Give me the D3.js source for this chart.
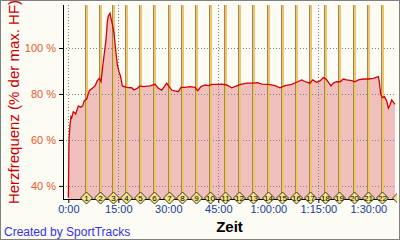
<!DOCTYPE html>
<html lang="de">
<head>
  <meta charset="UTF-8">
  <title>Herzfrequenz</title>
  <style>
    body { margin: 0; background: #fcfbf4; }
    svg { display: block; font-family: "Liberation Sans", Arial, sans-serif; }
  </style>
</head>
<body>
<svg id="chart" width="400" height="240"></svg>

<script src="https://d3js.org/d3.v7.min.js"></script>
<script>
  // time in minutes and heart rate in % of max HR
  const minutes = [0, 0.1, 0.2, 0.5, 0.8, 1.0, 1.5, 2.2, 3.0, 3.7, 4.3, 4.8, 5.5, 6.3, 7.2, 8.0, 8.7, 9.3, 9.8,
    10.3, 10.8, 11.3, 11.7, 12.0, 12.5, 12.8, 13.2, 13.7, 14.2, 14.7, 15.2, 15.7, 16.2, 17.5, 19.0, 19.7,
    20.7, 21.5, 22.5, 24.5, 26.0, 27.0, 28.0, 28.8, 29.5, 30.0, 31.0, 32.0, 33.0, 33.8, 35.0, 36.5, 38.0,
    38.8, 39.8, 41.0, 42.0, 43.2, 44.5, 46.0, 47.5, 49.0, 50.5, 52.0, 53.5, 55.5, 56.8, 58.0, 60.0, 62.0,
    63.5, 65.0, 67.0, 68.5, 70.0, 71.5, 72.5, 73.3, 74.5, 75.5, 76.5, 77.3, 78.0, 78.8, 79.5, 80.5, 81.5,
    82.5, 83.5, 85.0, 86.0, 87.0, 88.5, 90.0, 91.5, 93.0, 93.3, 93.7, 94.2, 94.8, 95.5, 96.0, 96.5, 97.0,
    97.5, 98.0];
  const heartRate = [35, 46.2, 60, 66.5, 70.1, 69.6, 72.3, 71.3, 74.8, 74.2, 74.8, 77.1, 77.8, 81.4, 82.5, 83.5, 85.8, 86.8, 85.3,
    91.9, 97.7, 103.5, 111.4, 113.9, 115.1, 112.9, 110.4, 106.4, 99.1, 92.6, 89.7, 87.5, 83.5, 82.9, 82.7, 81.7,
    82.5, 83.5, 83.2, 83.5, 84.2, 82.5, 81.7, 83.2, 84.7, 83.6, 81.7, 81.3, 81.0, 82.9, 82.9, 83.2, 82.9,
    81.4, 83.2, 83.9, 83.6, 84.2, 84.2, 84.3, 83.9, 82.7, 83.5, 84.3, 84.7, 84.7, 84.9, 84.3, 84.2, 83.6,
    82.7, 83.6, 84.2, 85.1, 86.1, 85.1, 84.7, 86.1, 85.1, 85.7, 87.1, 86.5, 85.1, 83.5, 84.7, 85.3, 85.3,
    86.5, 86.1, 85.8, 85.3, 86.1, 86.5, 86.5, 86.8, 87.5, 85.3, 79.9, 78.4, 78.8, 77.0, 73.8, 75.2, 77.4,
    76.4, 75.5];

  // lap ends (minutes); the last one sits on the right edge and is cut off, so it has no number
  const lapEnds = [5.2, 9.4, 13.3, 17.4, 21.6, 25.7, 30.2, 34.2, 38.3, 42.5, 47.0, 51.3, 55.5, 59.8,
    64.2, 68.4, 72.6, 76.9, 81.2, 85.6, 89.8, 94.1, 99.0];
  const lapLabels = ['1', '2', '3', '4', '5', '6', '7', '8', '9', '10', '11', '12', '13', '14',
    '15', '16', '17', '18', '19', '20', '21', '22', ''];

  const xTicks = [0, 15, 30, 45, 60, 75, 90];
  const xTickLabels = ['0:00', '15:00', '30:00', '45:00', '1:00:00', '1:15:00', '1:30:00'];
  const yTicks = [40, 60, 80, 100];
  const yTickLabels = ['40 %', '60 %', '80 %', '100 %'];

  const plotLeft = 63, plotRight = 396, plotTop = 5, plotBottom = 199;

  const svg = d3.select('#chart');

  const x = d3.scaleLinear().domain([-1.6, 98.3]).range([plotLeft, plotRight]);
  const y = d3.scaleLinear().domain([34.3, 118.7]).range([plotBottom, plotTop]);

  svg.append('rect').attr('width', 400).attr('height', 240).attr('fill', '#fcfbf4');

  svg.append('clipPath').attr('id', 'clip')
    .append('rect').attr('x', 0).attr('y', 0).attr('width', 397).attr('height', 240);

  const data = minutes.map((m, i) => ({ m: m, v: heartRate[i] }));

  // area
  svg.append('path')
    .datum(data)
    .attr('fill', '#f0c0bf')
    .attr('d', d3.area().x(d => x(d.m)).y0(plotBottom).y1(d => y(d.v)));

  // grid
  const grid = svg.append('g').attr('stroke', '#808080').attr('stroke-dasharray', '1,2');
  grid.selectAll('.gy').data(yTicks).enter().append('line')
    .attr('x1', plotLeft).attr('x2', plotRight)
    .attr('y1', d => Math.round(y(d)) + 0.5).attr('y2', d => Math.round(y(d)) + 0.5);
  grid.selectAll('.gx').data(xTicks).enter().append('line')
    .attr('y1', plotTop).attr('y2', plotBottom)
    .attr('x1', d => Math.round(x(d)) + 0.5).attr('x2', d => Math.round(x(d)) + 0.5);

  // lap lines
  const laps = svg.append('g').attr('clip-path', 'url(#clip)');
  laps.selectAll('.lapA').data(lapEnds).enter().append('line')
    .attr('x1', d => Math.round(x(d)) + 1).attr('x2', d => Math.round(x(d)) + 1)
    .attr('y1', plotTop).attr('y2', plotBottom)
    .attr('stroke', '#eec46c').attr('stroke-width', 2);
  laps.selectAll('.lapB').data(lapEnds).enter().append('line')
    .attr('x1', d => Math.round(x(d)) - 0.5).attr('x2', d => Math.round(x(d)) - 0.5)
    .attr('y1', plotTop).attr('y2', plotBottom)
    .attr('stroke', '#a08850').attr('stroke-width', 1);

  // line
  svg.append('path')
    .datum(data)
    .attr('fill', 'none')
    .attr('stroke', '#d40000')
    .attr('stroke-width', 1.3)
    .attr('d', d3.line().x(d => x(d.m)).y(d => y(d.v)));

  // axes
  const yAxis = svg.append('g')
    .attr('transform', `translate(${plotLeft},0)`)
    .call(d3.axisLeft(y).tickValues(yTicks).tickSize(4).tickFormat((d, i) => yTickLabels[i]));
  yAxis.select('.domain').remove();
  yAxis.selectAll('text').attr('fill', '#e85a2c').style('font-size', '11px')
    .style('font-family', '"Liberation Sans", Arial, sans-serif').attr('x', -7);

  const xAxis = svg.append('g')
    .attr('transform', `translate(0,${plotBottom})`)
    .call(d3.axisBottom(x).tickValues(xTicks).tickSize(4).tickFormat((d, i) => xTickLabels[i]));
  xAxis.select('.domain').remove();
  xAxis.selectAll('text').attr('fill', '#173c98').style('font-size', '11px')
    .style('font-family', '"Liberation Sans", Arial, sans-serif').attr('y', 6);

  svg.append('line').attr('x1', plotLeft + 0.5).attr('x2', plotLeft + 0.5)
    .attr('y1', plotTop).attr('y2', plotBottom + 1).attr('stroke', '#000');
  svg.append('line').attr('x1', plotLeft).attr('x2', plotRight)
    .attr('y1', plotBottom + 0.5).attr('y2', plotBottom + 0.5).attr('stroke', '#000');

  // lap diamonds
  const marks = svg.append('g').attr('clip-path', 'url(#clip)')
    .selectAll('g').data(lapEnds).enter().append('g')
    .attr('transform', d => `translate(${Math.round(x(d)) + 0.5},${plotBottom - 1})`);
  marks.append('path')
    .attr('d', 'M0,-6L6,0L0,6L-6,0Z')
    .attr('fill', '#f4e188').attr('stroke', '#3c3c14').attr('stroke-width', 1);
  marks.filter((d, i) => lapLabels[i] !== '').append('text')
    .attr('text-anchor', 'middle').attr('dy', '0.35em')
    .style('font-size', '8px').attr('fill', '#000')
    .text(d => lapLabels[lapEnds.indexOf(d)]);

  // titles
  svg.append('text')
    .attr('transform', `translate(19,${(plotTop + plotBottom) / 2}) rotate(-90)`)
    .attr('text-anchor', 'middle')
    .attr('fill', '#c80000')
    .style('font-size', '15px')
    .text('Herzfrequenz (% der max. HF)');

  svg.append('text')
    .attr('x', (plotLeft + plotRight) / 2).attr('y', 232)
    .attr('text-anchor', 'middle')
    .style('font-size', '15px').style('font-weight', 'bold')
    .text('Zeit');

  svg.append('text')
    .attr('x', 4).attr('y', 236)
    .attr('fill', '#3434e0')
    .style('font-size', '12px')
    .text('Created by SportTracks');

  // frame
  svg.append('rect').attr('x', 0.5).attr('y', 0.5).attr('width', 399).attr('height', 239)
    .attr('fill', 'none').attr('stroke', '#808080');
</script>
</body>
</html>
